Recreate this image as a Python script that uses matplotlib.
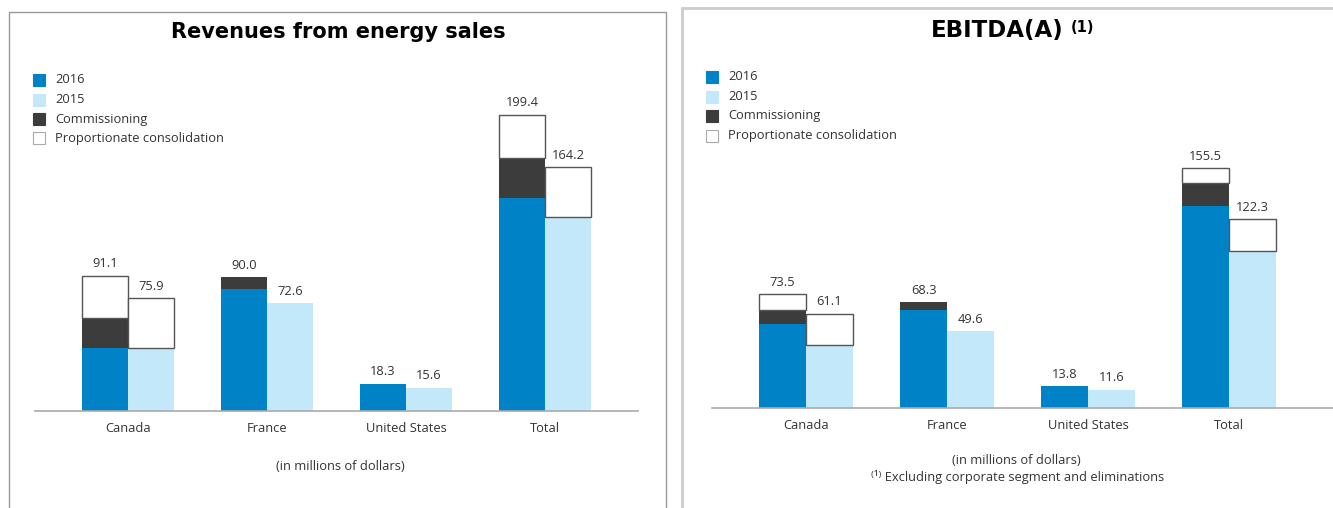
import matplotlib
matplotlib.use("Agg")
import matplotlib.pyplot as plt
from matplotlib.patches import Rectangle
import numpy as np

# ---------------------------------------------------------------
# Données (en millions de dollars)
# ---------------------------------------------------------------
categories = ["Canada", "France", "United States", "Total"]

# Revenues from energy sales
rev_2016 = [42.6, 82.3, 18.3, 143.2]
rev_2016_comm = [19.8, 7.7, 0.0, 27.5]
rev_2016_prop = [28.7, 0.0, 0.0, 28.7]
rev_2015 = [42.6, 72.6, 15.6, 130.9]
rev_2015_prop = [33.3, 0.0, 0.0, 33.3]
rev_labels_2016 = ["91.1", "90.0", "18.3", "199.4"]
rev_labels_2015 = ["75.9", "72.6", "15.6", "164.2"]

# EBITDA(A)
ebitda_2016 = [54.1, 63.2, 13.8, 131.1]
ebitda_2016_comm = [9.5, 5.1, 0.0, 14.6]
ebitda_2016_prop = [9.9, 0.0, 0.0, 9.8]
ebitda_2015 = [40.7, 49.6, 11.6, 101.9]
ebitda_2015_prop = [20.4, 0.0, 0.0, 20.4]
ebitda_labels_2016 = ["73.5", "68.3", "13.8", "155.5"]
ebitda_labels_2015 = ["61.1", "49.6", "11.6", "122.3"]

legend_labels = ["2016", "2015", "Commissioning", "Proportionate consolidation"]

# couleurs
C2016 = "#0082c6"
C2015 = "#c3e8fa"
CCOMM = "#3c3c3c"
CEDGE = "#555555"
TXT = "#333333"

W, H = 1333, 508
FONT = ["Open Sans", "DejaVu Sans"]
FS = 9.3
plt.rcParams["font.family"] = FONT

fig = plt.figure(figsize=(W / 100, H / 100), dpi=100)


def fx(x):
    return x / W


def fy(y):
    return 1 - y / H


def draw_panel(ax, b16, c16, p16, b15, p15, lab16, lab15, scale_top):
    x = np.arange(len(categories))
    w = 0.333
    x16 = x - w / 2
    x15 = x + w / 2
    b16 = np.array(b16)
    c16 = np.array(c16)
    p16 = np.array(p16)
    b15 = np.array(b15)
    p15 = np.array(p15)

    ax.bar(x16, b16, w, color=C2016, linewidth=0)
    ax.bar(x16, c16, w, bottom=b16, color=CCOMM, linewidth=0)
    m = p16 > 0
    ax.bar(x16[m], p16[m], w, bottom=(b16 + c16)[m], color="white",
           edgecolor=CEDGE, linewidth=1)
    ax.bar(x15, b15, w, color=C2015, linewidth=0)
    m = p15 > 0
    ax.bar(x15[m], p15[m], w, bottom=b15[m], color="white",
           edgecolor=CEDGE, linewidth=1)

    tops16 = b16 + c16 + p16
    tops15 = b15 + p15
    for xi, t, s in zip(x16, tops16, lab16):
        ax.annotate(s, (xi, t), xytext=(0, 4), textcoords="offset points",
                    ha="center", va="bottom", fontsize=FS, color=TXT)
    for xi, t, s in zip(x15, tops15, lab15):
        ax.annotate(s, (xi, t), xytext=(0, 4), textcoords="offset points",
                    ha="center", va="bottom", fontsize=FS, color=TXT)

    ax.set_ylim(0, scale_top)
    ax.set_xticks(x)
    ax.set_xticklabels(categories, fontsize=FS, color=TXT)
    ax.tick_params(axis="x", length=0, pad=8)
    ax.set_yticks([])
    for sp in ["top", "left", "right"]:
        ax.spines[sp].set_visible(False)
    ax.spines["bottom"].set_color("#aaaaaa")
    ax.spines["bottom"].set_linewidth(1.2)
    ax.patch.set_alpha(0)


def draw_legend(x0, y0, dy):
    colors = [C2016, C2015, CCOMM, "white"]
    for i, (lab, c) in enumerate(zip(legend_labels, colors)):
        yc = y0 + i * dy
        ec = "#aaaaaa" if c == "white" else c
        fig.add_artist(Rectangle((fx(x0), fy(yc + 6)), 12 / W, 12 / H,
                                 transform=fig.transFigure, facecolor=c,
                                 edgecolor=ec, linewidth=0.8))
        fig.text(fx(x0 + 22), fy(yc), lab, fontsize=FS, color=TXT,
                 ha="left", va="center")


# cadres des panneaux
fig.add_artist(Rectangle((fx(9), fy(520)), (666 - 9) / W, (520 - 12) / H,
                         transform=fig.transFigure, fill=False,
                         edgecolor="#999999", linewidth=1))
fig.add_artist(Rectangle((fx(682), fy(520)), (1345 - 682) / W, (520 - 8) / H,
                         transform=fig.transFigure, fill=False,
                         edgecolor="#cccccc", linewidth=2))

# panneau gauche
ax1 = fig.add_axes([fx(35), fy(411), (638 - 35) / W, (411 - 20) / H])
ax1.set_xlim(-0.669, 3.669)
draw_panel(ax1, rev_2016, rev_2016_comm, rev_2016_prop, rev_2015,
           rev_2015_prop, rev_labels_2016, rev_labels_2015, (411 - 20) / 1.485)
fig.text(fx(338), fy(32), "Revenues from energy sales", fontsize=15,
         fontweight="bold", ha="center", va="center", color="black",
         family="DejaVu Sans")
draw_legend(33, 80, 19.5)
fig.text(fx(340), fy(467), "(in millions of dollars)", fontsize=FS,
         color=TXT, ha="center", va="center")

# panneau droit
ax2 = fig.add_axes([fx(712), fy(407.5), (1333 - 712) / W, (407.5 - 20) / H])
ax2.set_xlim(-0.667, 3.737)
draw_panel(ax2, ebitda_2016, ebitda_2016_comm, ebitda_2016_prop, ebitda_2015,
           ebitda_2015_prop, ebitda_labels_2016, ebitda_labels_2015,
           (407.5 - 20) / 1.538)
fig.text(fx(1064), fy(30), "EBITDA(A)", fontsize=16.5, fontweight="bold",
         ha="right", va="center", color="black", family="DejaVu Sans")
fig.text(fx(1071), fy(27), "(1)", fontsize=10.5, fontweight="bold",
         ha="left", va="center", color="black", family="DejaVu Sans")
draw_legend(706, 77, 19.5)
fig.text(fx(1016), fy(461), "(in millions of dollars)", fontsize=FS,
         color=TXT, ha="center", va="center")
fig.text(fx(1018), fy(477), "⁽¹⁾ Excluding corporate segment and eliminations",
         fontsize=FS, color=TXT, ha="center", va="center", family=FONT)

fig.savefig("out.png", dpi=100)
